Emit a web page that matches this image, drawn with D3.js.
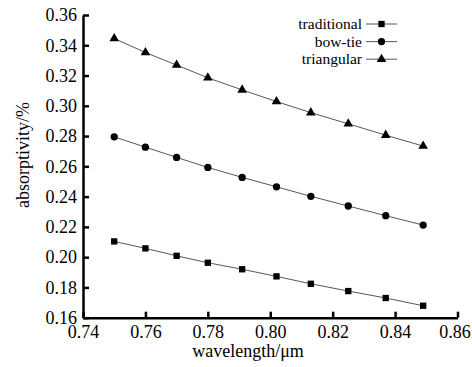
<!DOCTYPE html>
<html>
<head>
<meta charset="utf-8">
<script src="https://cdn.jsdelivr.net/npm/d3@7"></script>
<style>
  body { margin: 0; background: #fff; }
  svg { display: block; font-family: "Liberation Serif", "Times New Roman", serif; }
</style>
</head>
<body>
<svg width="472" height="367"></svg>
<script>
// wavelength in um
var wavelength = [0.750, 0.760, 0.770, 0.780, 0.791, 0.802, 0.813, 0.825, 0.837, 0.849];
var traditional = [0.2104, 0.2058, 0.2009, 0.1963, 0.1920, 0.1873, 0.1824, 0.1776, 0.1730, 0.1679];
var bowTie = [0.2795, 0.2727, 0.2659, 0.2593, 0.2527, 0.2465, 0.2402, 0.2338, 0.2274, 0.2212];
var triangular = [0.3445, 0.3352, 0.3269, 0.3185, 0.3105, 0.3028, 0.2955, 0.2881, 0.2806, 0.2734];
var seriesNames = ['traditional', 'bow-tie', 'triangular'];
var xTicks = [0.74, 0.76, 0.78, 0.80, 0.82, 0.84, 0.86];
var yTicks = [0.16, 0.18, 0.20, 0.22, 0.24, 0.26, 0.28, 0.30, 0.32, 0.34, 0.36];

var series = [
  {name: seriesNames[0], values: traditional, symbol: d3.symbolSquare, size: 40},
  {name: seriesNames[1], values: bowTie, symbol: d3.symbolCircle, size: 42},
  {name: seriesNames[2], values: triangular, symbol: d3.symbolTriangle, size: 40}
];

var svg = d3.select('svg');
var serif = '"Liberation Serif", "Times New Roman", serif';

var x = d3.scaleLinear().domain([0.74, 0.86]).range([83, 457.5]);
var y = d3.scaleLinear().domain([0.16, 0.36]).range([317.7, 15]);

// axes with ticks pointing inward
var xAxis = svg.append('g')
  .attr('transform', 'translate(0,317.7)')
  .call(d3.axisBottom(x).tickValues(xTicks).tickSizeInner(-6).tickSizeOuter(0)
    .tickFormat(d3.format('.2f')));

var yAxis = svg.append('g')
  .attr('transform', 'translate(83,0)')
  .call(d3.axisLeft(y).tickValues(yTicks).tickSizeInner(-6).tickSizeOuter(0)
    .tickFormat(d3.format('.2f')));

[xAxis, yAxis].forEach(function(a) {
  a.attr('font-family', serif).attr('font-size', 18);
  a.select('.domain').attr('stroke', '#000').attr('stroke-width', 2.5);
  a.selectAll('.tick line').attr('stroke', '#000').attr('stroke-width', 2.5);
  a.selectAll('.tick text').attr('fill', '#000');
});
xAxis.selectAll('.tick text').attr('y', 8).attr('dy', '0.71em')
  .attr('dx', function(d, i) { return i === xTicks.length - 1 ? -3 : 0; });
yAxis.selectAll('.tick text').attr('x', -6);

var line = d3.line()
  .x(function(d, i) { return x(wavelength[i]); })
  .y(function(d) { return y(d); });

series.forEach(function(s) {
  svg.append('path')
    .datum(s.values)
    .attr('d', line)
    .attr('fill', 'none')
    .attr('stroke', '#444')
    .attr('stroke-width', 0.9);

  svg.selectAll(null)
    .data(s.values)
    .enter()
    .append('path')
    .attr('d', d3.symbol().type(s.symbol).size(s.size))
    .attr('transform', function(d, i) { return `translate(${x(wavelength[i])},${y(d)})`; })
    .attr('fill', '#000');
});

// legend
var legend = svg.append('g').attr('font-family', serif);
series.forEach(function(s, i) {
  var ly = 24 + i * 17.6;
  legend.append('text')
    .attr('x', 362).attr('y', ly + 5)
    .attr('text-anchor', 'end')
    .attr('font-size', 15.5)
    .text(s.name);
  legend.append('line')
    .attr('x1', 366).attr('x2', 397)
    .attr('y1', ly).attr('y2', ly)
    .attr('stroke', '#444').attr('stroke-width', 0.9);
  legend.append('path')
    .attr('d', d3.symbol().type(s.symbol).size(s.size))
    .attr('transform', `translate(381.5,${ly})`)
    .attr('fill', '#000');
});

// axis titles
svg.append('text')
  .attr('x', 248).attr('y', 357)
  .attr('text-anchor', 'middle')
  .attr('font-family', serif)
  .attr('font-size', 18)
  .text('wavelength/μm');

svg.append('text')
  .attr('transform', 'translate(29,155) rotate(-90)')
  .attr('text-anchor', 'middle')
  .attr('font-family', serif)
  .attr('font-size', 18)
  .text('absorptivity/%');
</script>
</body>
</html>
